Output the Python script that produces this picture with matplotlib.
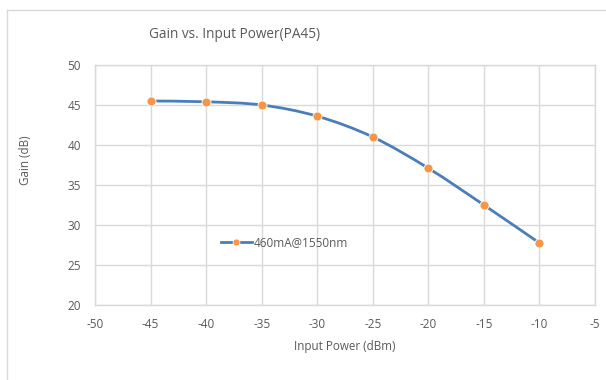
import matplotlib
matplotlib.use("Agg")
import matplotlib.pyplot as plt
from matplotlib.path import Path
from matplotlib.patches import PathPatch
from matplotlib.lines import Line2D
import numpy as np

input_power = [-45, -40, -35, -30, -25, -20, -15, -10]
gain = [45.5, 45.4, 45.0, 43.6, 41.0, 37.1, 32.5, 27.75]
series_label = "460mA@1550nm"
title = "Gain vs. Input Power(PA45)"
xlabel = "Input Power (dBm)"
ylabel = "Gain (dB)"

plt.rcParams['font.family'] = ['Open Sans', 'DejaVu Sans']
plt.rcParams['axes.unicode_minus'] = False
text_color = '#595959'
grid_color = '#d9d9d9'
line_color = '#4a7ebb'
marker_color = '#f79646'

fig = plt.figure(figsize=(6.06, 3.80), dpi=100)
W, H = 606, 380
ax = fig.add_axes([95 / W, (H - 305) / H, 500 / W, 240 / H])

ax.set_xlim(-50, -5)
ax.set_ylim(20, 50)
ax.set_xticks(np.arange(-50, -4, 5))
ax.set_yticks(np.arange(20, 51, 5))
ax.grid(True, color=grid_color, linewidth=1.0)
ax.set_axisbelow(True)
for s in ax.spines.values():
    s.set_color(grid_color)
    s.set_linewidth(1.0)
ax.tick_params(length=0, labelsize=8.5, colors=text_color)
ax.tick_params(axis='x', pad=9)
ax.tick_params(axis='y', pad=10)

# Smoothed line (Catmull-Rom style bezier through the data points)
pts = np.column_stack([input_power, gain]).astype(float)
n = len(pts)
verts = [pts[0]]
codes = [Path.MOVETO]
for i in range(n - 1):
    p0 = pts[i - 1] if i > 0 else pts[i]
    p1 = pts[i]
    p2 = pts[i + 1]
    p3 = pts[i + 2] if i + 2 < n else pts[i + 1]
    c1 = p1 + (p2 - p0) / 6.0
    c2 = p2 - (p3 - p1) / 6.0
    verts += [c1, c2, p2]
    codes += [Path.CURVE4] * 3
patch = PathPatch(Path(verts, codes), facecolor='none', edgecolor=line_color,
                  linewidth=2.0, zorder=3, capstyle='round')
ax.add_patch(patch)
ax.plot(input_power, gain, linestyle='none', marker='o', markersize=6.5,
        markerfacecolor=marker_color, markeredgecolor='white',
        markeredgewidth=0.6, zorder=4)

handle = Line2D([], [], color=line_color, linewidth=2.0, marker='o',
                markersize=5, markerfacecolor=marker_color,
                markeredgecolor='white', markeredgewidth=0.5)
leg = ax.legend([handle], [series_label], loc='center left',
                bbox_to_anchor=(0.24, 0.26), frameon=False, fontsize=8.5,
                handlelength=2.6, handletextpad=0.2, borderpad=0)
for t in leg.get_texts():
    t.set_color(text_color)

ax.set_xlabel(xlabel, fontsize=8.4, color=text_color, labelpad=7)
ax.set_ylabel(ylabel, fontsize=8.4, color=text_color)
ax.yaxis.set_label_coords((32 - 95) / 500, (305 - 160) / 240)

fig.text(149 / W, 1 - 35 / H, title, fontsize=9.8, color=text_color,
         ha='left', va='center')

# outer chart border (top and left)
fig.add_artist(Line2D([7 / W, 1.0], [1 - 10 / H, 1 - 10 / H],
                      transform=fig.transFigure, color=grid_color, linewidth=1.0))
fig.add_artist(Line2D([7 / W, 7 / W], [0.0, 1 - 10 / H],
                      transform=fig.transFigure, color=grid_color, linewidth=1.0))

fig.savefig("out.png", dpi=100)
